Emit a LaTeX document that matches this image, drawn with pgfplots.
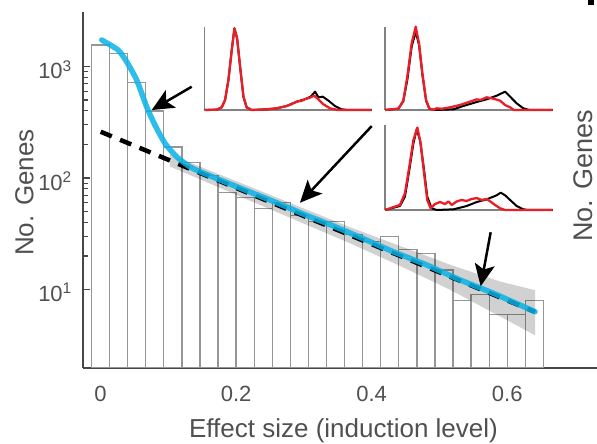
\documentclass[border=0pt]{standalone}
\usepackage{pgfplots}
\pgfplotsset{compat=1.18}
\usepackage{fontspec}
\setmainfont{Liberation Sans}
\usetikzlibrary{arrows.meta}
\definecolor{textgray}{RGB}{80,80,80}
\definecolor{axisgray}{RGB}{70,70,70}
\definecolor{bargray}{RGB}{150,150,150}
\definecolor{insetgray}{RGB}{130,130,130}
\definecolor{cyanblue}{RGB}{10,178,230}
\definecolor{insetred}{RGB}{235,30,40}
\begin{document}
\begin{tikzpicture}[x=1pt,y=1pt]
\useasboundingbox (0,0) rectangle (597,444);
\begin{axis}[
  at={(83pt,76pt)}, anchor=south west, scale only axis,
  width=515.8pt, height=356pt,
  xmin=-0.0258, xmax=0.735,
  ymode=log, ymin=1.977, ymax=3084, log origin=infty,
  axis x line*=bottom, axis y line*=left,
  axis line style={-, draw=axisgray, line width=1.5pt},
  tick align=inside,
  xtick={0,0.2,0.4,0.6}, xticklabels={0,0.2,0.4,0.6},
  xtick style={draw=none},
  ytick={10,100,1000},
  yticklabels={10\textsuperscript{1},10\textsuperscript{2},10\textsuperscript{3}},
  major tick length=7pt, minor tick length=4.5pt,
  ytick style={draw=axisgray, line width=1.2pt},
  every minor tick/.append style={line width=1pt},
  tick label style={font=\fontsize{22}{26}\selectfont, text=textgray},
  xticklabel style={anchor=base, yshift=-33.7pt},
  yticklabel style={anchor=east, inner sep=0pt, xshift=-11pt, yshift=-3pt},
  xlabel={Effect size (induction level)},
  ylabel={No. Genes},
  label style={font=\fontsize{26}{30}\selectfont, text=textgray},
  xlabel style={at={(axis description cs:0.505,0)}, anchor=base, yshift=-70pt},
  ylabel style={at={(axis description cs:-0.096,0.493)}, anchor=base},
]
% histogram
\addplot[ybar, bar width=0.02667, fill=white, draw=bargray, line width=1.3pt] coordinates {
(0,1560) (0.02667,1310) (0.05333,720) (0.08,400) (0.10667,190)
(0.13333,137) (0.16,106) (0.18667,74) (0.21333,67) (0.24,53)
(0.26667,60) (0.29333,46) (0.32,41) (0.34667,41) (0.37333,31)
(0.4,27) (0.42667,30) (0.45333,23) (0.48,21) (0.50667,15)
(0.53333,8) (0.56,9) (0.58667,6) (0.61333,6) (0.64,8)};
% confidence band
\addplot[draw=none, fill=black, fill opacity=0.18] coordinates {
(0.1025,162.5) (0.2205,83.6) (0.368,36.2) (0.4417,24.6) (0.5155,16.7)
(0.5892,11.8) (0.6409,9.86) (0.6409,3.89) (0.5892,5.74) (0.5155,9.96)
(0.4417,16.3) (0.368,26.0) (0.2205,62.6) (0.1025,126.8)} --cycle;
% exponential fit (dashed)
\addplot[black, line width=4.5pt, dash pattern=on 12pt off 9pt] coordinates {
(0.0003,260) (0.6409,6.3)};
% smoothed density (blue)
\addplot[cyanblue, line width=5.5pt, opacity=0.85, line join=round, line cap=round, smooth, tension=0.4] coordinates {
(0.0018,1730) (0.026,1406) (0.0386,1104) (0.0534,756) (0.0681,436)
(0.0804,298) (0.0951,205) (0.1124,155) (0.132,126) (0.1468,114)
(0.2009,83.6) (0.25,63.5) (0.2795,53.5) (0.2991,47.5) (0.3484,36.1)
(0.3975,26.9) (0.4319,21.8) (0.4811,16.6) (0.5302,12.2) (0.5794,9.25)
(0.6409,6.32)};
% arrows
\draw[black, line width=2.5pt, -{Stealth[length=22pt,width=20pt,inset=5pt]}] (axis cs:0.1345,659) -- (axis cs:0.0755,407);
\draw[black, line width=2.5pt, -{Stealth[length=22pt,width=20pt,inset=5pt]}] (axis cs:0.400,292) -- (axis cs:0.2942,60);
\draw[black, line width=2.5pt, -{Stealth[length=22pt,width=20pt,inset=5pt]}] (axis cs:0.5755,32.6) -- (axis cs:0.5608,10.7);
\end{axis}

% inset 1
\begin{axis}[at={(204.7pt,334pt)}, anchor=south west, scale only axis,
  width=167pt, height=83.3pt, xmin=0, xmax=100, ymin=0, ymax=1,
  axis lines=left, axis line style={-, draw=insetgray, line width=1.3pt},
  xtick=\empty, ytick=\empty, clip=false]
\addplot[black, line width=2pt, line join=round] coordinates {
(0,0) (7.2,0.004) (10.2,0.032) (12.2,0.12) (14.2,0.36) (16.2,0.72) (17.8,0.98)
(19.4,0.86) (21.2,0.52) (23.2,0.16) (25.1,0.032) (28.1,0) (37.1,0.008) (43.1,0.02)
(49.1,0.048) (55.1,0.10) (60.1,0.13) (63.5,0.16) (66.1,0.22) (68.1,0.152) (70.7,0.16)
(74.1,0.112) (78.0,0.048) (82.0,0.008) (86.0,0) (100,0)};
\addplot[insetred, line width=2.3pt, line join=round] coordinates {
(0,0) (7.2,0.004) (10.2,0.032) (12.2,0.12) (14.2,0.36) (16.2,0.72) (17.8,0.98)
(19.4,0.86) (21.2,0.52) (23.2,0.16) (25.1,0.032) (28.1,0) (37.1,0.008) (43.1,0.02)
(49.1,0.048) (52,0.07) (55.1,0.10) (58,0.11) (60.1,0.13) (63.1,0.148) (65.5,0.172)
(68.1,0.128) (71.1,0.068) (75.0,0.02) (80.0,0) (100,0)};
\end{axis}

% inset 2
\begin{axis}[at={(385pt,334pt)}, anchor=south west, scale only axis,
  width=167.7pt, height=83.3pt, xmin=0, xmax=100, ymin=0, ymax=1,
  axis lines=left, axis line style={-, draw=insetgray, line width=1.3pt},
  xtick=\empty, ytick=\empty, clip=false]
\addplot[black, line width=2pt, line join=round] coordinates {
(0,0) (8.0,0.016) (10.9,0.104) (13.3,0.36) (15.9,0.76) (18.3,0.94) (20.3,0.78)
(22.3,0.42) (24.5,0.112) (26.4,0.016) (29.8,0) (40.8,0.008) (46.7,0.048)
(54.7,0.096) (60.6,0.128) (66.6,0.172) (71.6,0.22) (74.6,0.16) (78.5,0.08)
(82.5,0.02) (86.1,0) (100,0)};
\addplot[insetred, line width=2.3pt, line join=round] coordinates {
(0,0) (8.0,0.016) (10.9,0.112) (13.3,0.40) (15.9,0.80) (18.3,1.0) (20.3,0.80)
(22.3,0.44) (24.5,0.12) (26.4,0.02) (28.8,0) (30.8,0.02) (34,0.015) (38.8,0.032)
(44.7,0.06) (50.7,0.10) (54.7,0.128) (57,0.12) (60.6,0.152) (64.6,0.136)
(68.6,0.112) (71.6,0.06) (74.6,0.032) (76.9,0) (100,0)};
\end{axis}

% inset 3
\begin{axis}[at={(385pt,234pt)}, anchor=south west, scale only axis,
  width=167.7pt, height=85pt, xmin=0, xmax=100, ymin=0, ymax=1,
  axis lines=left, axis line style={-, draw=insetgray, line width=1.3pt},
  xtick=\empty, ytick=\empty, clip=false]
\addplot[black, line width=2pt, line join=round] coordinates {
(0,0) (8.9,0.047) (11.9,0.157) (14.5,0.47) (16.9,0.78) (18.9,0.95) (20.9,0.82)
(23.3,0.47) (25.2,0.157) (27.8,0.02) (30.8,0) (40.8,0.008) (48.7,0.047)
(54.7,0.094) (60.6,0.125) (66.6,0.173) (69.0,0.204) (71.6,0.173) (74.6,0.118)
(78.5,0.047) (82.5,0.008) (85.5,0) (100,0)};
\addplot[insetred, line width=2.3pt, line join=round] coordinates {
(0,0) (3.0,0.02) (8.9,0.06) (11.9,0.196) (14.5,0.51) (16.9,0.82) (19.3,0.97)
(21.3,0.78) (23.3,0.43) (25.2,0.118) (27.2,0.02) (29.8,0.07) (32.8,0.094)
(35.8,0.07) (37.8,0.10) (39.8,0.06) (42.7,0.10) (45.7,0.118) (48.7,0.106)
(51.7,0.13) (54.7,0.14) (57.7,0.118) (60.6,0.13) (63.0,0.098) (65.6,0.06)
(68.6,0.02) (71.6,0) (100,0)};
\end{axis}

% fragments of the neighbouring panel
\node[rotate=90, anchor=base, font=\fontsize{27}{31}\selectfont, text=textgray, inner sep=0pt] at (592,268) {No. Genes};
\fill[black] (588,439) rectangle (594,446);
\end{tikzpicture}
\end{document}
